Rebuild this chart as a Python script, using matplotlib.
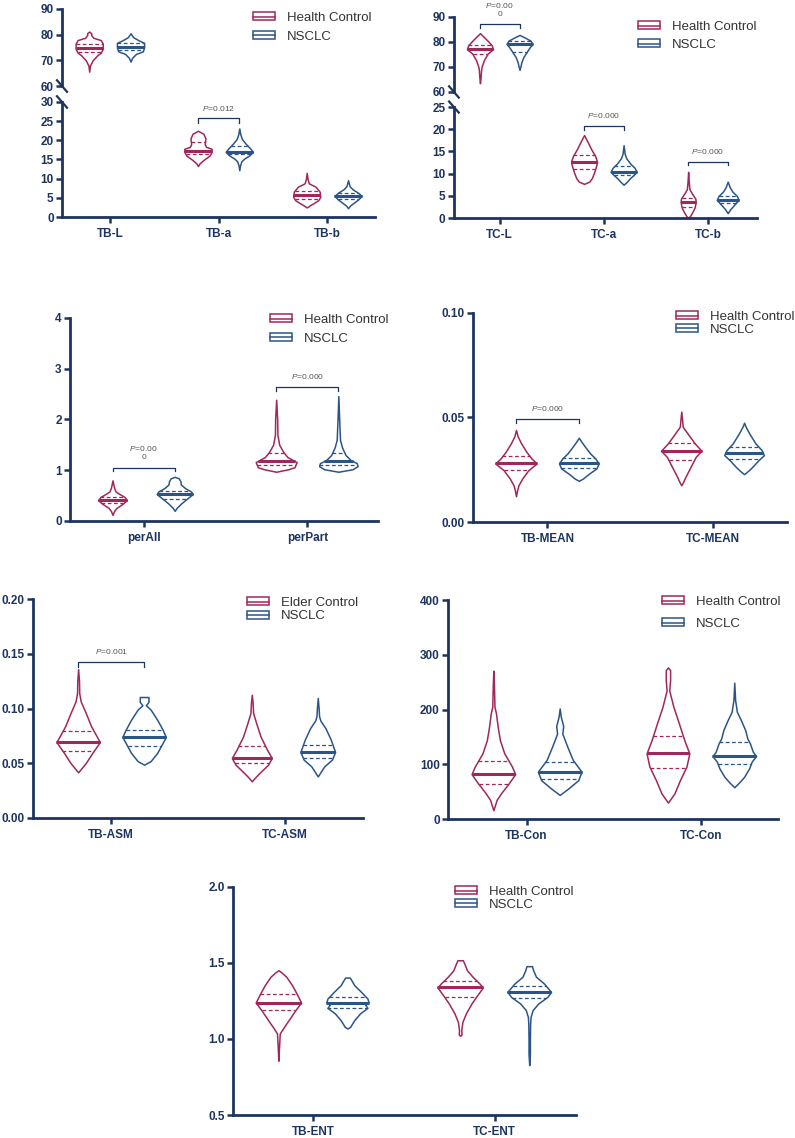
import numpy as np
import matplotlib
matplotlib.use('Agg')
import matplotlib.pyplot as plt
from matplotlib.patches import Patch
from matplotlib.lines import Line2D

plt.rcParams['font.family'] = ['Liberation Sans', 'DejaVu Sans']
plt.rcParams['mathtext.fontset'] = 'custom'
plt.rcParams['mathtext.it'] = 'Liberation Sans:italic'
plt.rcParams['mathtext.rm'] = 'Liberation Sans'

RED = '#a0275a'
BLUE = '#2b5588'
NAVY = '#1d3461'

# ---- data: violin outlines as (value, relative half width) ----
# panel 1 : TB colour
p1_cats = ['TB-L', 'TB-a', 'TB-b']
p1_hc = [
    [(65.6, 0), (68, .06), (70, .25), (72, .6), (73, .85), (74.5, 1), (76.5, 1), (77.9, .85), (78.8, .3), (79.8, .15), (80.6, .15), (81.2, 0)],
    [(13.3, 0), (14, .12), (15, .45), (16, .85), (17, 1), (17.8, 1), (18.3, .6), (19, .5), (20.5, .55), (21.7, .4), (22.5, 0)],
    [(2.5, 0), (3.2, .3), (3.6, .5), (4.4, .85), (5.3, 1), (6.6, .95), (7.9, .65), (8.8, .15), (10, .06), (11.5, 0)],
]
p1_ns = [
    [(69.5, 0), (71, .12), (72.5, .4), (73.5, .9), (75, 1), (76.8, 1), (77.8, .6), (79, .2), (80.5, 0)],
    [(12.2, 0), (13.5, .06), (14.5, .15), (15.2, .35), (16.1, .75), (17, 1), (17.9, .8), (19.2, .45), (20.3, .2), (21.5, .08), (23.1, 0)],
    [(2.3, 0), (3, .15), (3.8, .45), (4.6, .75), (5.5, 1), (6.3, .75), (7.2, .35), (8, .12), (9.6, 0)],
]
p1_hc_q = [(73.1, 74.9, 76.4), (16.4, 17.3, 19.5), (4.6, 5.7, 6.9)]
p1_ns_q = [(74.0, 75.1, 76.6), (16.4, 17.0, 18.6), (4.6, 5.5, 6.3)]

# panel 2 : TC colour
p2_cats = ['TC-L', 'TC-a', 'TC-b']
p2_hc = [
    [(63.5, 0), (66, .05), (68.5, .08), (70, .12), (72.7, .3), (75.4, .6), (77.1, 1), (78.7, .9), (80.7, .55), (82.5, .2), (83.5, 0)],
    [(7.7, 0), (8.2, .4), (9, .6), (10.5, .8), (12, .95), (12.7, 1), (14, .85), (15.5, .55), (17, .3), (18.7, 0)],
    [(0, 0), (0.5, .15), (1.5, .35), (2.4, .5), (3.6, .58), (4.4, .55), (5.5, .3), (6.5, .1), (8, .05), (10.4, 0)],
]
p2_ns = [
    [(68.8, 0), (70, .06), (72, .15), (74, .3), (76, .55), (78, .8), (79.2, 1), (80.5, .85), (81.8, .4), (82.8, 0)],
    [(7.5, 0), (8.2, .25), (9, .5), (9.8, .8), (10.4, 1), (11.3, .85), (12.3, .5), (13.5, .2), (14.5, .08), (16.4, 0)],
    [(1.1, 0), (2, .2), (3, .5), (4.1, .84), (5, .7), (6, .35), (7, .15), (8.2, 0)],
]
p2_hc_q = [(75.1, 77.1, 78.8), (11.0, 12.7, 14.1), (2.4, 3.6, 4.6)]
p2_ns_q = [(76.1, 79.2, 80.5), (9.7, 10.4, 11.7), (3.4, 4.1, 5.0)]

# panel 3 : perAll / perPart
p3_cats = ['perAll', 'perPart']
p3_hc = [
    [(0.12, 0), (0.2, .08), (0.26, .2), (0.34, .5), (0.41, .7), (0.47, .6), (0.53, .35), (0.58, .15), (0.65, .08), (0.8, 0)],
    [(0.97, 0), (1.02, .6), (1.06, .9), (1.16, 1), (1.26, .55), (1.36, .35), (1.5, .15), (1.7, .06), (2.0, .05), (2.39, 0)],
]
p3_ns = [
    [(0.2, 0), (0.26, .1), (0.34, .3), (0.44, .6), (0.53, .88), (0.58, .8), (0.65, .5), (0.72, .3), (0.78, .28), (0.84, .2), (0.87, 0)],
    [(0.97, 0), (1.02, .7), (1.08, .94), (1.14, .9), (1.2, .6), (1.3, .35), (1.45, .18), (1.6, .08), (2.0, .04), (2.46, 0)],
]
p3_hc_q = [(0.36, 0.41, 0.47), (1.10, 1.18, 1.33)]
p3_ns_q = [(0.43, 0.53, 0.59), (1.10, 1.18, 1.33)]

# panel 4 : MEAN
p4_cats = ['TB-MEAN', 'TC-MEAN']
p4_hc = [
    [(0.0123, 0), (0.015, .05), (0.0176, .12), (0.0208, .3), (0.0248, .6), (0.028, 1), (0.0304, .75), (0.0336, .5), (0.0376, .25), (0.041, .08), (0.044, 0)],
    [(0.0176, 0), (0.019, .08), (0.0216, .2), (0.0264, .45), (0.0312, .7), (0.0341, .98), (0.0376, .65), (0.0424, .3), (0.0456, .07), (0.049, .04), (0.0528, 0)],
]
p4_ns = [
    [(0.0197, 0), (0.0208, .2), (0.0232, .5), (0.0256, .85), (0.028, .96), (0.0304, .8), (0.0328, .55), (0.036, .3), (0.0385, .12), (0.0403, 0)],
    [(0.0229, 0), (0.0245, .2), (0.0264, .4), (0.0296, .7), (0.032, .96), (0.0344, .85), (0.0376, .55), (0.0424, .25), (0.0455, .08), (0.0475, 0)],
]
p4_hc_q = [(0.0248, 0.028, 0.0315), (0.0296, 0.0341, 0.0376)]
p4_ns_q = [(0.0256, 0.028, 0.0304), (0.0299, 0.0328, 0.0357)]

# panel 5 : ASM
p5_cats = ['TB-ASM', 'TC-ASM']
p5_hc = [
    [(0.0417, 0), (0.0502, .35), (0.0594, .65), (0.0694, 1), (0.0837, .6), (0.0959, .35), (0.1065, .12), (0.114, .05), (0.125, .04), (0.136, 0)],
    [(0.0335, 0), (0.037, .15), (0.0411, .35), (0.0487, .75), (0.0548, .92), (0.0624, .7), (0.0746, .4), (0.0868, .2), (0.096, .06), (0.105, .04), (0.1126, 0)],
]
p5_ns = [
    [(0.0487, 0), (0.052, .3), (0.0594, .6), (0.0685, .85), (0.074, 1), (0.0807, .85), (0.0898, .6), (0.099, .3), (0.103, .08), (0.106, .2), (0.1105, .2)],
    [(0.038, 0), (0.0426, .15), (0.0472, .3), (0.0533, .65), (0.0603, .8), (0.0715, .6), (0.0822, .35), (0.089, .12), (0.093, .06), (0.1, .04), (0.1096, 0)],
]
p5_hc_q = [(0.0615, 0.0694, 0.0791), (0.0502, 0.0548, 0.0654)]
p5_ns_q = [(0.0654, 0.074, 0.0807), (0.0548, 0.0603, 0.067)]

# panel 6 : Con
p6_cats = ['TB-Con', 'TC-Con']
p6_hc = [
    [(16, 0), (35, .15), (47, .35), (65, .7), (82, 1), (96, .85), (120, .5), (144, .3), (168, .2), (193, .12), (205, .05), (240, .03), (271, 0)],
    [(30, 0), (47, .3), (71, .55), (96, .85), (120, .98), (144, .75), (175, .5), (205, .25), (235, .06), (254, .1), (272, .1), (277, 0)],
]
p6_ns = [
    [(44, 0), (56, .4), (71, .85), (86.5, 1), (108, .6), (132, .35), (156, .12), (170, .16), (187, .05), (202, 0)],
    [(58, 0), (68, .25), (77, .45), (92.5, .68), (105, .8), (115, 1), (123, .85), (138, .72), (147, .6), (162.6, .5), (181, .3), (196, .12), (217, .04), (249, 0)],
]
p6_hc_q = [(64, 82, 106.5), (92.5, 120, 151.5)]
p6_ns_q = [(73, 86.5, 105), (100, 115, 140)]

# panel 7 : ENT
p7_cats = ['TB-ENT', 'TC-ENT']
p7_hc = [
    [(0.857, 0), (0.95, .03), (1.036, .06), (1.069, .2), (1.124, .45), (1.19, .75), (1.24, 1), (1.299, .8), (1.354, .6), (1.409, .35), (1.44, .12), (1.452, 0)],
    [(1.021, 0), (1.03, .06), (1.06, .05), (1.113, .1), (1.168, .25), (1.234, .5), (1.288, .75), (1.339, 1), (1.365, .85), (1.409, .55), (1.452, .3), (1.49, .2), (1.518, .12)],
]
p7_ns = [
    [(1.069, 0), (1.08, .12), (1.1, .2), (1.124, .3), (1.168, .55), (1.205, .88), (1.225, .78), (1.24, .93), (1.266, .88), (1.31, .6), (1.354, .3), (1.39, .16), (1.404, .1)],
    [(0.828, 0), (0.9, .03), (1.0, .03), (1.1, .04), (1.146, .06), (1.19, .15), (1.234, .4), (1.277, .8), (1.31, .96), (1.365, .65), (1.409, .3), (1.45, .18), (1.479, .12)],
]
p7_hc_q = [(1.188, 1.24, 1.299), (1.273, 1.339, 1.38)]
p7_ns_q = [(1.205, 1.24, 1.277), (1.271, 1.31, 1.35)]

OFF = 0.19
HW = 0.125


def draw_violin(ax, x, prof, quart, col):
    ys = np.array([p[0] for p in prof])
    ws = np.array([p[1] for p in prof]) * HW
    ax.fill_betweenx(ys, x - ws, x + ws, facecolor='white', edgecolor=col, lw=1.1, zorder=2)
    q1, med, q3 = quart
    for v, ls, lw in ((q1, (0, (3, 2)), 0.9), (q3, (0, (3, 2)), 0.9), (med, '-', 2.2)):
        w = np.interp(v, ys, ws)
        ax.plot([x - w, x + w], [v, v], color=col, ls=ls, lw=lw, zorder=3, solid_capstyle='butt')


def draw_group(ax, hc, ns, hcq, nsq):
    for i in range(len(hc)):
        draw_violin(ax, i - OFF, hc[i], hcq[i], RED)
        draw_violin(ax, i + OFF, ns[i], nsq[i], BLUE)


def style(ax, yticks, ylabels, cats=None, xlim=(-0.45, 1.45)):
    for s in ('top', 'right'):
        ax.spines[s].set_visible(False)
    for s in ('left', 'bottom'):
        ax.spines[s].set_linewidth(2)
        ax.spines[s].set_color(NAVY)
    ax.set_xlim(*xlim)
    ax.set_ylim(yticks[0], yticks[-1])
    ax.set_yticks(yticks, labels=ylabels, fontweight='bold')
    ax.tick_params(axis='both', direction='out', length=4, width=1.8, color=NAVY,
                   labelcolor=NAVY, labelsize=8.5, pad=2)
    if cats is not None:
        ax.set_xticks(range(len(cats)), labels=cats, fontweight='bold')
        ax.tick_params(axis='x', pad=4)
    ax.patch.set_alpha(0)


def bracket(ax, i, y, h, ty, txt):
    x0, x1 = i - OFF, i + OFF
    ax.plot([x0, x0, x1, x1], [y - h, y, y, y - h], color=NAVY, lw=0.9, clip_on=False, zorder=4)
    ax.text(i, ty, txt, ha='center', va='center', fontsize=6, color='#555555',
            linespacing=1.25, clip_on=False)


def legend(ax, label1, x, y, spacing):
    h1 = (Patch(facecolor='white', edgecolor=RED, lw=1.1), Line2D([], [], color=RED, lw=1.1))
    h2 = (Patch(facecolor='white', edgecolor=BLUE, lw=1.1), Line2D([], [], color=BLUE, lw=1.1))
    leg = ax.legend([h1, h2], [label1, 'NSCLC'], loc='upper left', bbox_to_anchor=(x, y),
                    bbox_transform=fig.transFigure, frameon=False, borderpad=0, borderaxespad=0,
                    handlelength=1.7, handleheight=0.55, handletextpad=0.9,
                    labelspacing=spacing, fontsize=9.5)
    for t in leg.get_texts():
        t.set_color('#333333')


def break_marks(ax_up, ax_lo):
    kw = dict(color=NAVY, lw=1.6, clip_on=False)
    ax_up.plot([-0.016, 0.016], [0.075, -0.075], transform=ax_up.transAxes, **kw)
    ax_lo.plot([-0.016, 0.016], [1.05, 0.95], transform=ax_lo.transAxes, **kw)


fig = plt.figure(figsize=(7.95, 11.38), dpi=100)

# ---- panel 1 (broken axis) ----
a1u = fig.add_axes([0.078, 0.9244, 0.394, 0.0677])
a1l = fig.add_axes([0.078, 0.8093, 0.394, 0.1011])
for ax in (a1u, a1l):
    draw_group(ax, p1_hc, p1_ns, p1_hc_q, p1_ns_q)
style(a1u, [60, 70, 80, 90], ['60', '70', '80', '90'], xlim=(-0.44, 2.44))
style(a1l, [0, 5, 10, 15, 20, 25, 30], ['0', '5', '10', '15', '20', '25', '30'], p1_cats, xlim=(-0.44, 2.44))
a1u.spines['bottom'].set_visible(False)
a1u.set_xticks([])
break_marks(a1u, a1l)
bracket(a1l, 1, 25.7, 1.1, 28.4, '$P$=0.012')
legend(a1u, 'Health Control', 0.318, 0.9895, 0.5)

# ---- panel 2 (broken axis) ----
a2u = fig.add_axes([0.571, 0.9192, 0.381, 0.0659])
a2l = fig.add_axes([0.571, 0.8084, 0.381, 0.0975])
for ax in (a2u, a2l):
    draw_group(ax, p2_hc, p2_ns, p2_hc_q, p2_ns_q)
style(a2u, [60, 70, 80, 90], ['60', '70', '80', '90'], xlim=(-0.44, 2.47))
style(a2l, [0, 5, 10, 15, 20, 25], ['0', '5', '10', '15', '20', '25'], p2_cats, xlim=(-0.44, 2.47))
a2u.spines['bottom'].set_visible(False)
a2u.set_xticks([])
break_marks(a2u, a2l)
bracket(a2u, 0, 87.1, 1.7, 93.0, '$P$=0.00\n0')
bracket(a2l, 1, 20.7, 0.8, 23.0, '$P$=0.000')
bracket(a2l, 2, 12.7, 0.8, 14.9, '$P$=0.000')
legend(a2u, 'Health Control', 0.8025, 0.9815, 0.45)

# ---- panel 3 ----
a3 = fig.add_axes([0.088, 0.5422, 0.387, 0.1784])
draw_group(a3, p3_hc, p3_ns, p3_hc_q, p3_ns_q)
style(a3, [0, 1, 2, 3, 4], ['0', '1', '2', '3', '4'], p3_cats, xlim=(-0.45, 1.43))
bracket(a3, 0, 1.05, 0.07, 1.35, '$P$=0.00\n0')
bracket(a3, 1, 2.64, 0.08, 2.84, '$P$=0.000')
legend(a3, 'Health Control', 0.3396, 0.7241, 0.5)

# ---- panel 4 ----
a4 = fig.add_axes([0.595, 0.5413, 0.395, 0.1837])
draw_group(a4, p4_hc, p4_ns, p4_hc_q, p4_ns_q)
style(a4, [0.0, 0.05, 0.10], ['0.00', '0.05', '0.10'], p4_cats)
bracket(a4, 0, 0.0493, 0.0021, 0.0544, '$P$=0.000')
legend(a4, 'Health Control', 0.8503, 0.7267, 0.05)

# ---- panel 5 ----
a5 = fig.add_axes([0.0415, 0.2812, 0.415, 0.1924])
draw_group(a5, p5_hc, p5_ns, p5_hc_q, p5_ns_q)
style(a5, [0.0, 0.05, 0.10, 0.15, 0.20], ['0.00', '0.05', '0.10', '0.15', '0.20'], p5_cats)
bracket(a5, 0, 0.1422, 0.0043, 0.1522, '$P$=0.001')
legend(a5, 'Elder Control', 0.3107, 0.4754, 0.1)

# ---- panel 6 ----
a6 = fig.add_axes([0.5635, 0.2803, 0.415, 0.1924])
draw_group(a6, p6_hc, p6_ns, p6_hc_q, p6_ns_q)
style(a6, [0, 100, 200, 300, 400], ['0', '100', '200', '300', '400'], p6_cats, xlim=(-0.45, 1.44))
legend(a6, 'Health Control', 0.8327, 0.4763, 0.75)

# ---- panel 7 ----
a7 = fig.add_axes([0.293, 0.0202, 0.431, 0.2004])
draw_group(a7, p7_hc, p7_ns, p7_hc_q, p7_ns_q)
style(a7, [0.5, 1.0, 1.5, 2.0], ['0.5', '1.0', '1.5', '2.0'], p7_cats, xlim=(-0.44, 1.445))
legend(a7, 'Health Control', 0.5723, 0.2214, 0.05)

fig.savefig('out.png', dpi=100)
